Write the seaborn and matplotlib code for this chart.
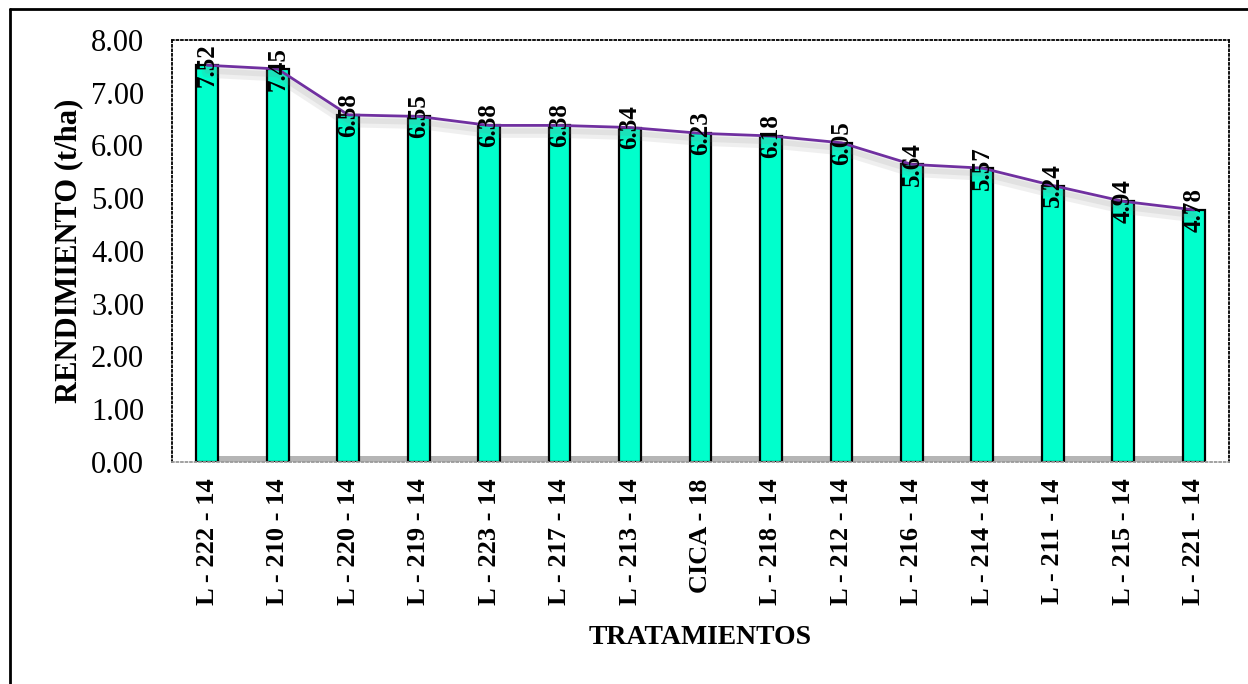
import numpy as np
import pandas as pd
import matplotlib
matplotlib.use("Agg")
import matplotlib.pyplot as plt
import matplotlib.patheffects as pe
from matplotlib.lines import Line2D
from matplotlib.ticker import FormatStrFormatter
import seaborn as sns

# data
tratamientos = ["L - 222 - 14", "L - 210 - 14", "L - 220 - 14", "L - 219 - 14",
                "L - 223 - 14", "L - 217 - 14", "L - 213 - 14", "CICA - 18",
                "L - 218 - 14", "L - 212 - 14", "L - 216 - 14", "L - 214 - 14",
                "L - 211 - 14", "L - 215 - 14", "L - 221 - 14"]
rendimiento = [7.52, 7.45, 6.58, 6.55, 6.38, 6.38, 6.34, 6.23,
               6.18, 6.05, 5.64, 5.57, 5.24, 4.94, 4.78]

df = pd.DataFrame({"tratamiento": tratamientos, "rendimiento": rendimiento})
df["pos"] = np.arange(len(df))

sns.set_style("white")
plt.rcParams["font.family"] = ["Liberation Serif", "DejaVu Serif"]
plt.rcParams["text.color"] = "black"
plt.rcParams["axes.labelcolor"] = "black"
plt.rcParams["xtick.color"] = "black"
plt.rcParams["ytick.color"] = "black"

fig = plt.figure(figsize=(12.48, 6.84), dpi=100)
ax = fig.add_axes([0.1378, 0.3246, 0.847, 0.617])

bar_w = 0.31
n = len(df)

# grey "floor" under the bars
ax.fill_between([-bar_w / 2, n - 1 + bar_w / 2], 0, 0.12, color="#b5b5b5",
                zorder=1, linewidth=0)

sns.barplot(data=df, x="tratamiento", y="rendimiento", order=tratamientos,
            color="#00FFCC", saturation=1, width=bar_w, edgecolor="black",
            linewidth=1.6, ax=ax, zorder=2)

# trend line through bar tops, with a soft shadow
sns.lineplot(data=df, x="pos", y="rendimiento", color="#7030A0", linewidth=2,
             ax=ax, zorder=3,
             path_effects=[pe.SimpleLineShadow(offset=(0, -5), shadow_color="grey",
                                               alpha=0.12, linewidth=8),
                           pe.SimpleLineShadow(offset=(0, -4), shadow_color="grey",
                                               alpha=0.12, linewidth=4),
                           pe.Normal()])

# value labels, rotated, centred at bar top
for p, v in zip(df["pos"], df["rendimiento"]):
    ax.text(p, v, f"{v:.2f}", rotation=90, ha="center", va="center",
            fontsize=18, fontweight="bold", color="black", zorder=4)

ax.set_xlim(-0.5, n - 0.5)
ax.set_ylim(0, 8)
ax.set_yticks(np.arange(0, 9, 1))
ax.yaxis.set_major_formatter(FormatStrFormatter("%.2f"))
ax.tick_params(axis="y", length=0, pad=20, labelsize=22)
ax.tick_params(axis="x", which="major", length=0, pad=12, labelsize=19)
ax.set_xticks(np.arange(-0.5, n, 1), minor=True)
ax.tick_params(axis="x", which="minor", length=8, color="#e0e0e0", width=1)
for lab in ax.get_xticklabels():
    lab.set_rotation(90)
    lab.set_fontweight("bold")

ax.set_xlabel("TRATAMIENTOS", fontsize=20, fontweight="bold", labelpad=14)
ax.set_ylabel("RENDIMIENTO (t/ha)", fontsize=22, fontweight="bold", labelpad=6)

for side in ["top", "right", "left", "bottom"]:
    ax.spines[side].set_linestyle((0, (1, 1.5)))
    ax.spines[side].set_linewidth(1.3)
    ax.spines[side].set_color("black")
ax.spines["bottom"].set_color("#9a9a9a")

# outer chart border (top and left visible)
fig.add_artist(Line2D([0.008, 1.0], [0.987, 0.987], transform=fig.transFigure,
                      color="black", linewidth=2))
fig.add_artist(Line2D([0.008, 0.008], [0.0, 0.987], transform=fig.transFigure,
                      color="black", linewidth=2))

fig.savefig("out.png", dpi=100)
